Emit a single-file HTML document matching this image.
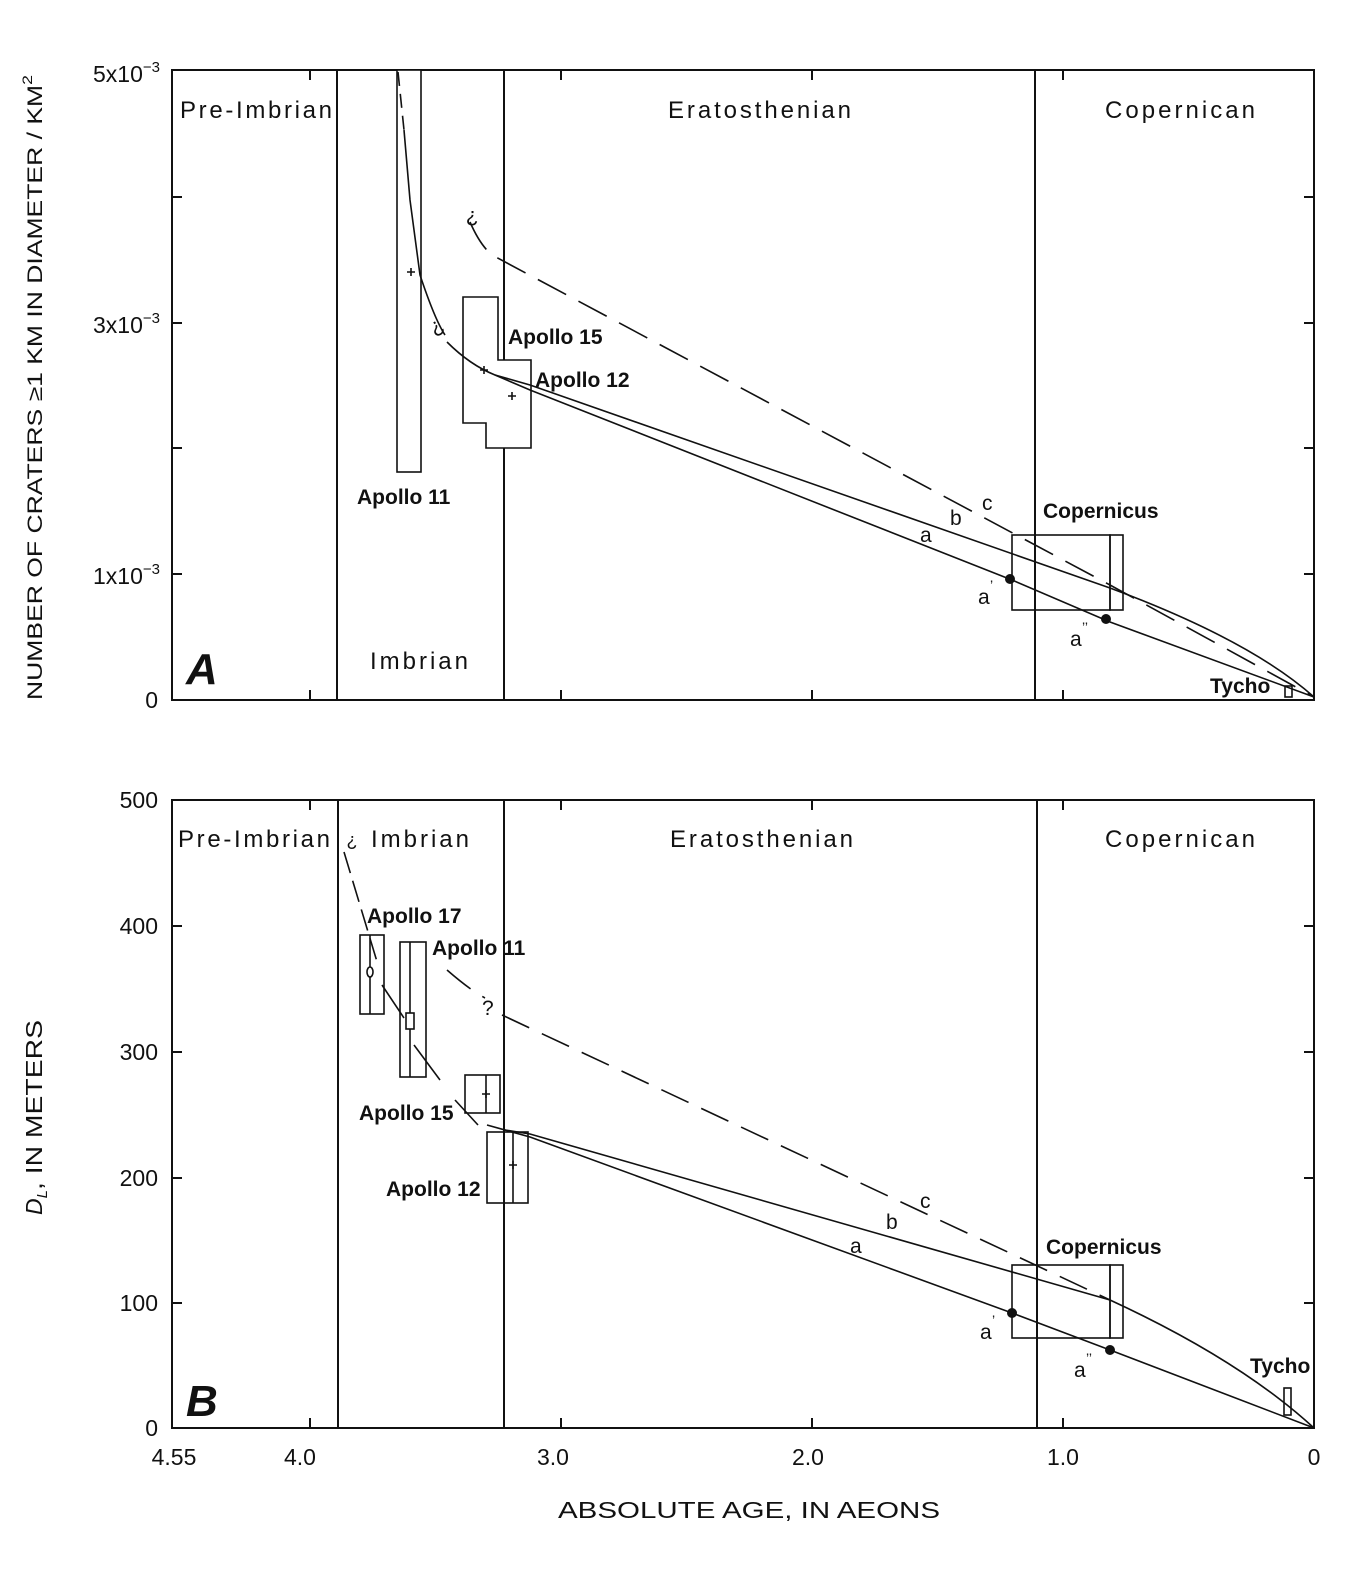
<!DOCTYPE html>
<html><head><meta charset="utf-8"><style>
html,body{margin:0;padding:0;background:#fff}
svg{display:block}
text{font-family:"Liberation Sans",sans-serif;fill:#111}
.c{font-family:"Liberation Sans Narrow","Liberation Sans",sans-serif;font-weight:bold}
</style></head><body>
<svg width="1352" height="1574" viewBox="0 0 1352 1574" xmlns="http://www.w3.org/2000/svg">
<g fill="none" stroke="#111" stroke-width="2">
<rect x="172" y="70" width="1142" height="630"/>
<line x1="337" y1="70" x2="337" y2="700"/>
<line x1="504" y1="70" x2="504" y2="700"/>
<line x1="1035" y1="70" x2="1035" y2="700"/>
<path d="M172 197h10M172 323h10M172 448h10M172 574h10M1314 197h-10M1314 323h-10M1314 448h-10M1314 574h-10M310 700v-10M561 700v-10M812 700v-10M1063 700v-10M310 70v10M561 70v10M812 70v10M1063 70v10"/>
<rect x="172" y="800" width="1142" height="628"/>
<line x1="338" y1="800" x2="338" y2="1428"/>
<line x1="504" y1="800" x2="504" y2="1428"/>
<line x1="1037" y1="800" x2="1037" y2="1428"/>
<path d="M172 926h10M172 1052h10M172 1178h10M172 1303h10M1314 926h-10M1314 1052h-10M1314 1178h-10M1314 1303h-10M310 1428v-10M561 1428v-10M812 1428v-10M1063 1428v-10M310 800v10M561 800v10M812 800v10M1063 800v10"/>
</g>
<g fill="none" stroke="#111" stroke-width="1.6">
<rect x="397" y="70" width="24" height="402" fill="#fff"/>
<path d="M463 297H498V360H531V448H486V423H463Z" fill="#fff"/>
<rect x="1012" y="535" width="98" height="75"/>
<rect x="1110" y="535" width="13" height="75"/>
<rect x="1285" y="686" width="7" height="11"/>
<path d="M398 72 L404 130" stroke-dasharray="14 8"/>
<path d="M404 130 L410 200 L420 275 Q435 320 445 335"/>
<path d="M447 342 Q470 365 495 375 L530 390 L1012 580 L1110 622 L1314 697"/>
<path d="M495 375 L530 385 L1110 588 Q1250 640 1314 697"/>
<path d="M470 222 Q480 245 492 255 L1110 585 L1314 697" stroke-dasharray="32 14"/>
<path d="M407 272h8M411 268v8M480 370h8M484 366v8M508 396h8M512 392v8"/>
<rect x="360" y="935" width="24" height="79"/>
<line x1="370" y1="935" x2="370" y2="1014"/>
<ellipse cx="370" cy="972" rx="3" ry="5" fill="#fff"/>
<rect x="400" y="942" width="26" height="135"/>
<line x1="410" y1="942" x2="410" y2="1077"/>
<rect x="406" y="1013" width="8" height="16" fill="#fff"/>
<rect x="465" y="1075" width="35" height="38"/>
<line x1="486" y1="1075" x2="486" y2="1113"/>
<rect x="487" y="1132" width="41" height="71"/>
<line x1="513" y1="1132" x2="513" y2="1203"/>
<rect x="1012" y="1265" width="98" height="73"/>
<rect x="1110" y="1265" width="13" height="73"/>
<rect x="1284" y="1388" width="7" height="27"/>
<path d="M344 852 L378 965" stroke-dasharray="22 8"/>
<path d="M382 985 L404 1018 M414 1045 L440 1080 M455 1100 L478 1125"/>
<path d="M487 1125 L530 1137 L1012 1313 L1110 1350 L1314 1428"/>
<path d="M505 1130 L530 1134 L1110 1300 Q1240 1360 1314 1428"/>
<path d="M447 970 Q470 990 485 998 M502 1015 L1110 1300" stroke-dasharray="30 14"/>
<path d="M482 1094h8M486 1090v8M509 1165h8M513 1161v8"/>
</g>
<g fill="#111">
<circle cx="1010" cy="579" r="5"/><circle cx="1106" cy="619" r="5"/>
<circle cx="1012" cy="1313" r="5"/><circle cx="1110" cy="1350" r="5"/>
</g>
<g font-size="24" lengthAdjust="spacingAndGlyphs">
<text x="180" y="118" textLength="152">Pre-Imbrian</text>
<text x="668" y="118" textLength="183">Eratosthenian</text>
<text x="1105" y="118" textLength="150">Copernican</text>
<text x="370" y="669" textLength="98">Imbrian</text>
<text x="178" y="847" textLength="152">Pre-Imbrian</text>
<text x="371" y="847" textLength="98">Imbrian</text>
<text x="670" y="847" textLength="183">Eratosthenian</text>
<text x="1105" y="847" textLength="150">Copernican</text>
</g>
<g font-size="23" text-anchor="end">
<text x="160" y="82">5x10<tspan font-size="15" dy="-10">−3</tspan></text>
<text x="160" y="333">3x10<tspan font-size="15" dy="-10">−3</tspan></text>
<text x="160" y="584">1x10<tspan font-size="15" dy="-10">−3</tspan></text>
<text x="158" y="708">0</text>
<text x="158" y="808">500</text>
<text x="158" y="934">400</text>
<text x="158" y="1060">300</text>
<text x="158" y="1186">200</text>
<text x="158" y="1311">100</text>
<text x="158" y="1436">0</text>
</g>
<g font-size="23" text-anchor="middle">
<text x="174" y="1465">4.55</text>
<text x="300" y="1465">4.0</text>
<text x="553" y="1465">3.0</text>
<text x="808" y="1465">2.0</text>
<text x="1063" y="1465">1.0</text>
<text x="1314" y="1465">0</text>
</g>
<text x="558" y="1518" font-size="23" textLength="382" lengthAdjust="spacingAndGlyphs">ABSOLUTE AGE, IN AEONS</text>
<text font-size="21" transform="translate(42,700) rotate(-90)" textLength="625" lengthAdjust="spacingAndGlyphs">NUMBER OF CRATERS ≥1 KM IN DIAMETER / KM<tspan font-size="14" dy="-10">2</tspan></text>
<text font-size="23" transform="translate(42,1215) rotate(-90)"><tspan font-style="italic">D<tspan font-size="15" dy="5">L</tspan></tspan><tspan dy="-5" textLength="170" lengthAdjust="spacingAndGlyphs">, IN METERS</tspan></text>
<g class="c" font-size="21">
<text x="357" y="504">Apollo 11</text>
<text x="508" y="344">Apollo 15</text>
<text x="535" y="387">Apollo 12</text>
<text x="1043" y="518">Copernicus</text>
<text x="1210" y="693">Tycho</text>
<text x="367" y="923">Apollo 17</text>
<text x="432" y="955">Apollo 11</text>
<text x="359" y="1120">Apollo 15</text>
<text x="386" y="1196">Apollo 12</text>
<text x="1046" y="1254">Copernicus</text>
<text x="1250" y="1373">Tycho</text>
</g>
<g font-size="21">
<text x="920" y="542">a</text><text x="950" y="525">b</text><text x="982" y="510">c</text>
<text x="978" y="604">a</text><text x="990" y="590" font-size="14">’</text>
<text x="1070" y="646">a</text><text x="1082" y="632" font-size="14">’’</text>
<text x="850" y="1253">a</text><text x="886" y="1229">b</text><text x="920" y="1208">c</text>
<text x="980" y="1339">a</text><text x="992" y="1325" font-size="14">’</text>
<text x="1074" y="1377">a</text><text x="1086" y="1363" font-size="14">’’</text>
<text x="462" y="225" transform="rotate(180 470 218)">?</text>
<text x="428" y="338" transform="rotate(150 436 330)">?</text>
<text x="343" y="848" transform="rotate(180 350 842)" font-size="18">?</text>
<text x="482" y="1015">?</text>
</g>
<g font-family="Liberation Serif" font-weight="bold" font-style="italic" font-size="44">
<text x="186" y="684">A</text>
<text x="186" y="1416">B</text>
</g>
</svg>
</body></html>
